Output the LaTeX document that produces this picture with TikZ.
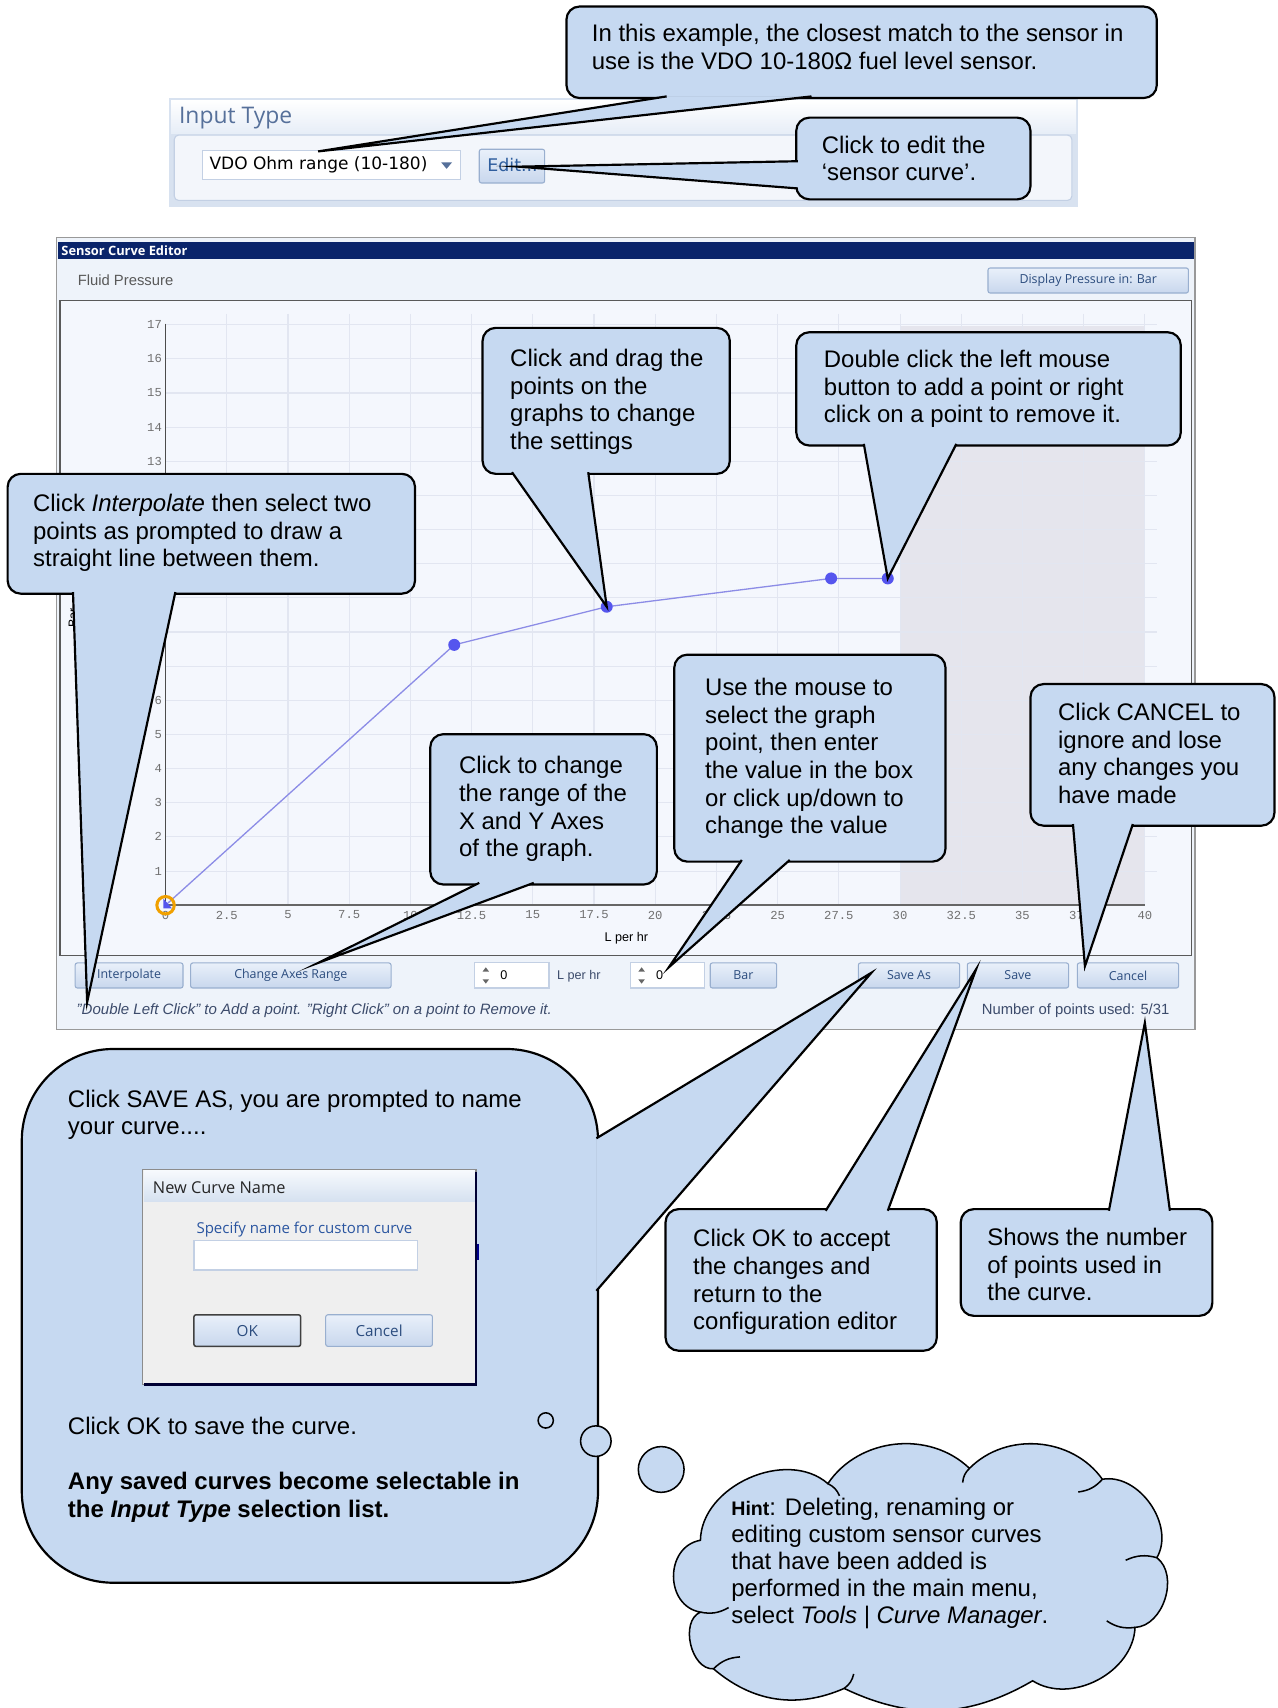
\documentclass[tikz,border=0pt]{standalone}
\usepackage{fontspec}
\setmainfont{Liberation Sans}
\newfontfamily\uifont{Open Sans}
\newfontfamily\vdfont{DejaVu Sans}
\newfontfamily\tickfont{Liberation Mono}
\usetikzlibrary{calc}
\definecolor{cfill}{HTML}{C6D9F1}
\definecolor{winbg}{HTML}{EEF3FA}
\definecolor{plotbg}{HTML}{F4F7FD}
\definecolor{gridc}{HTML}{E2E6F1}
\definecolor{shadec}{HTML}{E5E5ED}
\definecolor{navy}{HTML}{0A246A}
\definecolor{btntop}{HTML}{E9F0FA}
\definecolor{btnbot}{HTML}{C8D7ED}
\definecolor{btnborder}{HTML}{99AFCF}
\definecolor{btntextc}{HTML}{2B4C7E}
\definecolor{curvec}{HTML}{8C8CE6}
\definecolor{dotc}{HTML}{5555EE}
\definecolor{orangec}{HTML}{F0A000}
\definecolor{panelframe}{HTML}{D8E2F0}
\definecolor{paneltop}{HTML}{E6EDF7}
\definecolor{panelbody}{HTML}{F3F6FB}
\definecolor{panelline}{HTML}{C3D0E4}
\definecolor{titleblue}{HTML}{56709A}
\definecolor{editblue}{HTML}{2F5E9E}
\definecolor{statusc}{HTML}{3C4B6B}
\definecolor{dlgbg}{HTML}{EFEFEF}
\definecolor{dlgtop}{HTML}{F6F9FD}
\definecolor{dlgbot}{HTML}{D5E1F0}
\definecolor{dlgblue}{HTML}{2A55A0}
\definecolor{ticklabc}{HTML}{707070}
\newcommand\lines[1]{\begin{tabular}[t]{@{}l@{}}#1\end{tabular}}
\tikzset{
  cbox/.style={draw=black, line width=1pt, fill=cfill, rounded corners=6pt},
  ctail/.style={draw=black, line width=1pt, fill=cfill, line join=miter, miter limit=30},
  ctext/.style={anchor=base west, inner sep=0pt, font=\fontsize{11}{12.7}\selectfont},
  btn/.style={draw=btnborder, line width=0.5pt, top color=btntop, bottom color=btnbot, rounded corners=1pt},
  btntext/.style={inner sep=0pt, text=btntextc, font=\uifont\fontsize{5.7}{7}\selectfont},
  ui/.style={anchor=west, inner sep=0pt},
  gridline/.style={draw=gridc, line width=0.5pt},
  ticklab/.style={inner sep=0pt, text=ticklabc, font=\tickfont\fontsize{5.6}{6}\selectfont},
  spinbox/.style={draw=panelline, fill=white, line width=0.5pt},
  cloudline/.style={draw=black, line width=0.7pt},
}
\begin{document}
\begin{tikzpicture}[x=0.5pt,y=-0.5pt]
\useasboundingbox (0,0) rectangle (1173,1568);
\fill[white] (0,0) rectangle (1173,1568);

% ---------------- Input Type panel
\fill[panelframe] (155,90) rectangle (990,190);
\shade[top color=white, bottom color=paneltop] (157,92) rectangle (988,123);
\draw[fill=panelbody, draw=panelline, line width=0.5pt, rounded corners=2pt] (160,124) rectangle (984,184);
\node[ui, text=titleblue, font=\uifont\fontsize{10.5}{12}\selectfont] (ittitle) at (164,108) {Input Type};
\draw[fill=white, draw=panelline, line width=0.5pt] (186,138) rectangle (423,165);
\node[ui, font=\vdfont\fontsize{7.8}{9}\selectfont] (ddtext) at (192,151.5) {VDO Ohm range (10-180)};
\fill[titleblue] (405,149) -- (415,149) -- (410,155) -- cycle;
\draw[btn] (440,137) rectangle (500,168);
\node[ui, text=editblue, font=\vdfont\fontsize{8}{9}\selectfont] (edittext) at (447,151.5) {Edit...};

% top callout
\draw[cbox] (520,6) rectangle (1062,90);
\coordinate (tipType) at (292,139);
\path[ctail] (612,88.5) -- (tipType) -- (745,88.5);
\node[ctext] (ttop) at (543,38.5) {\lines{In this example, the closest match to the sensor in\\use is the VDO 10-180Ω fuel level sensor.}};

% edit callout
\draw[cbox] (731,108) rectangle (946,183);
\coordinate (tipEdit) at (476,153);
\path[ctail] (732.5,148) -- (tipEdit) -- (732.5,173);
\node[ctext] (tedit) at (754,140.5) {\lines{Click to edit the\\‘sensor curve’.}};

% ---------------- Sensor Curve Editor window
\draw[fill=winbg, draw=black!40, line width=0.5pt] (52,218) rectangle (1097,945);
\fill[navy] (53,222) rectangle (1096,238);
\node[ui, text=white, font=\uifont\bfseries\fontsize{5.9}{7}\selectfont] (sce) at (56,230) {Sensor Curve Editor};
\node[ui, text=black!65, font=\fontsize{6.8}{8}\selectfont] (fluid) at (71,257) {Fluid Pressure};
\draw[btn] (907,246) rectangle (1091,269);
\node[btntext] (dpb) at (999,257.5) {Display Pressure in: Bar};

% plot area
\draw[fill=plotbg, draw=black!65, line width=0.6pt] (55,276) rectangle (1094,877);
\fill[shadec] (826,299) rectangle (1051,831);
\foreach \k in {1,...,16} \draw[gridline] ({152+56.19*\k},288) -- ({152+56.19*\k},831);
\foreach \j in {1,...,17} \draw[gridline] (152,{831-31.35*\j}) -- (1062,{831-31.35*\j});
\draw[black!70, line width=0.4pt] (152,297) -- (152,831);
\draw[black!60, line width=1pt] (152,831) -- (1051,831);
\foreach \j in {1,...,6,13,14,15,16,17} \node[ticklab, anchor=east] (yl\j) at (149,{831-31.35*\j}) {\j};
\foreach \k/\lab in {1/2.5,2/5,3/7.5,4/10,5/12.5,6/15,7/17.5,8/20,9/22.5,10/25,11/27.5,12/30,13/32.5,14/35,15/37.5,16/40}
  \node[ticklab] (xl\k) at ({152+56.19*\k},840) {\lab};
\node[ticklab] (xl0) at (152,840) {0};
\node[inner sep=0pt, font=\fontsize{5.8}{7}\selectfont] (xtitle) at (575,861) {L per hr};
\node[inner sep=0pt, rotate=90, font=\fontsize{5.8}{7}\selectfont] (ytitle) at (67,567) {Bar};

% curve
\coordinate (p0) at (152,831);
\coordinate (p1) at (417,592);
\coordinate (p2) at (557,557);
\coordinate (p3) at (763,531);
\coordinate (p4) at (815,531);
\draw[curvec, line width=0.6pt] (p0) -- (p1) -- (p2) -- (p3) -- (p4);
\foreach \p in {p1,p2,p3,p4} \fill[dotc] (\p) circle [radius=5.5];
\fill[dotc] (150,825) -- (150,834) -- (158,834) -- cycle;
\draw[orangec, line width=1.4pt] (p0) circle [radius=8];

% bottom toolbar
\draw[btn] (69,884) rectangle (168,907);
\node[btntext] (bInterp) at (118.5,895.5) {Interpolate};
\draw[btn] (175,884) rectangle (359,907);
\node[btntext] (bAxes) at (267,895.5) {Change Axes Range};
\draw[spinbox] (436,884) rectangle (504,907);
\fill[black!60] (443,892) -- (449,892) -- (446,888) -- cycle;
\fill[black!60] (443,899) -- (449,899) -- (446,903) -- cycle;
\node[ui, font=\fontsize{5.8}{7}\selectfont] (spin1) at (459,895.5) {0};
\node[ui, text=statusc, font=\fontsize{5.8}{7}\selectfont] (lperhr) at (511,896) {L per hr};
\draw[spinbox] (579,884) rectangle (647,907);
\fill[black!60] (586,892) -- (592,892) -- (589,888) -- cycle;
\fill[black!60] (586,899) -- (592,899) -- (589,903) -- cycle;
\node[ui, font=\fontsize{5.8}{7}\selectfont] (spin2) at (602,895.5) {0};
\draw[btn] (652,884) rectangle (713,907);
\node[btntext] (bBar) at (682.5,895.5) {Bar};
\draw[btn] (788,884) rectangle (881,907);
\node[btntext] (bSaveAs) at (834.5,895.5) {Save As};
\draw[btn] (888,884) rectangle (981,907);
\node[btntext] (bSave) at (934.5,895.5) {Save};
\draw[btn] (989,884) rectangle (1082,907);
\node[btntext] (bCancel) at (1035.5,895.5) {Cancel};
\node[ui, text=statusc, font=\itshape\fontsize{6.9}{8}\selectfont] (status) at (70,928) {"Double Left Click" to Add a point. "Right Click" on a point to Remove it.};
\node[ui, text=statusc, font=\fontsize{6.8}{8}\selectfont] (npts) at (901,928) {Number of points used: 5/31};

% ---------------- callouts over the editor
% Interpolate
\draw[cbox] (7,435) rectangle (381,545);
\coordinate (tipInterp) at (80,920);
\path[ctail] (67,543.5) -- (tipInterp) -- (161,543.5);
\node[ctext] (tinterp) at (30,469.5) {\lines{Click \textit{Interpolate} then select two\\points as prompted to draw a\\straight line between them.}};

% drag
\draw[cbox] (443,301) rectangle (670,435);
\coordinate (tipDrag) at (p2);
\path[ctail] (470,433.5) -- (tipDrag) -- (540,433.5);
\node[ctext] (tdrag) at (468,336.5) {\lines{Click and drag the\\points on the\\graphs to change\\the settings}};

% double click
\draw[cbox] (731,305) rectangle (1084,409);
\coordinate (tipDouble) at (p4);
\path[ctail] (793,407.5) -- (tipDouble) -- (878,407.5);
\node[ctext] (tdouble) at (756,337.5) {\lines{Double click the left mouse\\button to add a point or right\\click on a point to remove it.}};

% change range
\draw[cbox] (395,674) rectangle (603,812);
\coordinate (tipAxes) at (292,884);
\path[ctail] (440,810.5) -- (tipAxes) -- (490,810.5);
\node[ctext] (trange) at (421,710.5) {\lines{Click to change\\the range of the\\X and Y Axes\\of the graph.}};

% use the mouse
\draw[cbox] (619,601) rectangle (868,791);
\coordinate (tipSpin) at (614,888);
\path[ctail] (681,789.5) -- (tipSpin) -- (725,789.5);
\node[ctext] (tmouse) at (647,638.5) {\lines{Use the mouse to\\select the graph\\point, then enter\\the value in the box\\or click up/down to\\change the value}};

% cancel
\draw[cbox] (946,628) rectangle (1170,758);
\coordinate (tipCancel) at (996,887);
\path[ctail] (985,756.5) -- (tipCancel) -- (1040,756.5);
\node[ctext] (tcancel) at (971,661.5) {\lines{Click CANCEL to\\ignore and lose\\any changes you\\have made}};

% ---------------- Save As callout
\draw[cbox, rounded corners=42pt] (20,963) rectangle (549,1453);
\coordinate (tipSaveAs) at (800,893);
\path[ctail] (547.5,1045) -- (tipSaveAs) -- (547.5,1185);
\node[ctext] (tsave1) at (62,1016.5) {\lines{Click SAVE AS, you are prompted to name\\your curve....}};
% dialog
\draw[fill=dlgbg, draw=black!45, line width=0.5pt] (131,1074) rectangle (437,1271);
\shade[top color=dlgtop, bottom color=dlgbot] (132,1075) rectangle (436,1103);
\draw[black!80!blue, line width=1pt] (437,1076) -- (437,1271) -- (132,1271);
\node[ui, text=black!85, font=\uifont\fontsize{7.5}{9}\selectfont] (dlgtitle) at (140,1090) {New Curve Name};
\node[ui, text=dlgblue, font=\uifont\fontsize{6.9}{8}\selectfont] (dlgprompt) at (180,1129) {Specify name for custom curve};
\draw[fill=white, draw=panelline, line width=0.6pt] (178,1139) rectangle (383,1166);
\draw[btn, draw=black!75, line width=0.7pt] (178,1207) rectangle (276,1236);
\node[btntext, font=\uifont\fontsize{7}{8}\selectfont] (dlgok) at (227,1221.5) {OK};
\draw[btn] (299,1207) rectangle (397,1236);
\node[btntext, font=\uifont\fontsize{7}{8}\selectfont] (dlgcancel) at (348,1221.5) {Cancel};
\draw[blue!55!black, line width=1pt] (439,1142) -- (439,1157);
\node[ctext] (tsave2) at (62,1316.5) {Click OK to save the curve.};
\node[ctext, font=\bfseries\fontsize{11}{12.7}\selectfont] (tsave3) at (62,1367.5) {\lines{Any saved curves become selectable in\\the \textit{Input Type} selection list.}};

% OK callout
\draw[cbox] (611,1110) rectangle (860,1240);
\coordinate (tipSave) at (896,890);
\path[ctail] (758,1111.5) -- (tipSave) -- (815,1111.5);
\node[ctext] (tok) at (636,1144.5) {\lines{Click OK to accept\\the changes and\\return to the\\configuration editor}};

% points callout
\draw[cbox] (882,1110) rectangle (1113,1208);
\coordinate (tipPts) at (1051,939);
\path[ctail] (1018,1111.5) -- (tipPts) -- (1074,1111.5);
\node[ctext] (tshows) at (906,1143.5) {\lines{Shows the number\\of points used in\\the curve.}};

% ---------------- thought bubbles and cloud
\draw[fill=cfill, line width=0.7pt] (501,1304) circle [radius=7];
\draw[fill=cfill, line width=0.7pt] (547,1323) circle [radius=14];
\draw[fill=cfill, line width=0.7pt] (607,1349) circle [radius=21];
\coordinate (cc) at (842,1448);
\coordinate (v1) at (643,1414);
\coordinate (v2) at (760,1362);
\coordinate (v3) at (890,1348);
\coordinate (v4) at (1012,1358);
\coordinate (v5) at (1062,1430);
\coordinate (v6) at (1042,1494);
\coordinate (v7) at (948,1543);
\coordinate (v8) at (775,1550);
\coordinate (v9) at (655,1532);
\coordinate (v10) at (643,1480);
\path[cloudline, fill=cfill] (v1) to[bend left=65] (v2) to[bend left=50] (v3) to[bend left=50] (v4)
  to[bend left=65] (v5) to[bend left=70] (v6) to[bend left=60] (v7) to[bend left=28] (v8)
  to[bend left=32] (v9) to[bend left=80] (v10) to[bend left=80, looseness=1.3] (v1) -- cycle;
\foreach \v/\b in {v2/20,v3/-20,v4/20,v5/-20,v6/20,v8/-20,v9/20,v10/-20}
  \draw[cloudline] (\v) to[bend left=\b] ($(\v)!0.13!(cc)$);
\node[anchor=base west, inner sep=0pt, font=\fontsize{11}{12.4}\selectfont] (hint) at (671,1391.5)
  {\lines{{\fontsize{9}{11}\selectfont\bfseries Hint}: Deleting, renaming or\\editing custom sensor curves\\that have been added is\\performed in the main menu,\\select \textit{Tools | Curve Manager}.}};
\end{tikzpicture}
\end{document}
